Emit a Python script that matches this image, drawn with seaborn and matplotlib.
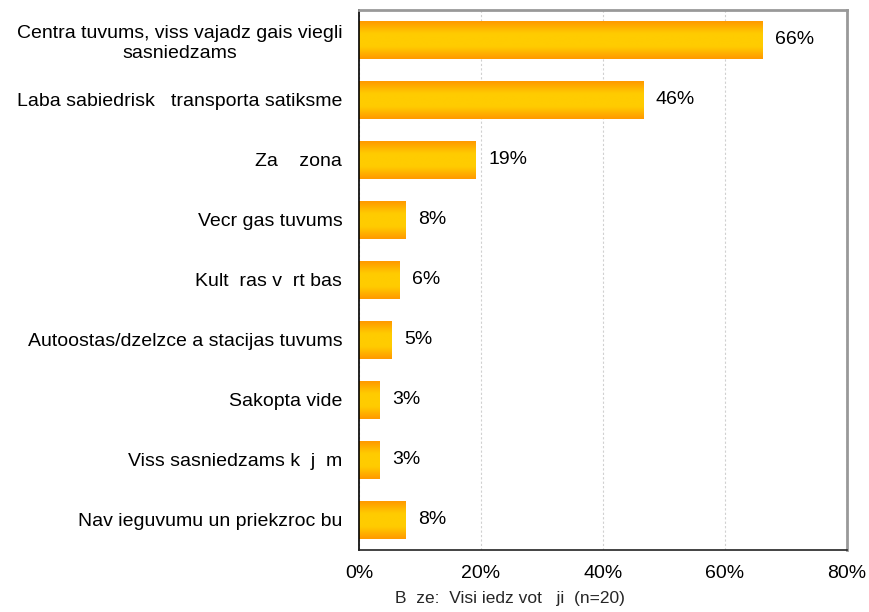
import numpy as np
import pandas as pd
import matplotlib
matplotlib.use("Agg")
import matplotlib.pyplot as plt
import seaborn as sns
from matplotlib.colors import LinearSegmentedColormap

# Data
categories = [
    "Centra tuvums, viss vajadz gais viegli\nsasniedzams",
    "Laba sabiedrisk   transporta satiksme",
    "Za    zona",
    "Vecr gas tuvums",
    "Kult  ras v  rt bas",
    "Autoostas/dzelzce a stacijas tuvums",
    "Sakopta vide",
    "Viss sasniedzams k  j  m",
    "Nav ieguvumu un priekzroc bu",
]
values = [66.2, 46.6, 19.1, 7.7, 6.6, 5.3, 3.4, 3.4, 7.7]
value_labels = ["66%", "46%", "19%", "8%", "6%", "5%", "3%", "3%", "8%"]
x_ticks = [0, 20, 40, 60, 80]
x_title = "B  ze:  Visi iedz vot   ji  (n=20)"

df = pd.DataFrame({"cat": categories, "val": values})

sns.set_style("white")
plt.rcParams["font.family"] = ["Liberation Sans", "DejaVu Sans"]
plt.rcParams["text.color"] = "black"
plt.rcParams["xtick.color"] = "black"
plt.rcParams["ytick.color"] = "black"

fig = plt.figure(figsize=(8.69, 6.12), dpi=100)
ax = fig.add_axes([359 / 869, 1 - 550 / 612, 488 / 869, 540 / 612])

sns.barplot(data=df, x="val", y="cat", orient="h", width=0.63,
            color="#FFB000", edgecolor="none", ax=ax)

# vertical gradient fill (orange edges, yellow middle) clipped to each bar
cmap = LinearSegmentedColormap.from_list("og", ["#FF9900", "#FFCC00", "#FFCC00", "#FF9900"])
grad = np.linspace(0, 1, 256).reshape(-1, 1)
for p in ax.patches:
    x0, y0 = p.get_x(), p.get_y()
    w, h = p.get_width(), p.get_height()
    im = ax.imshow(grad, cmap=cmap, aspect="auto", extent=[x0, x0 + w, y0 + h, y0],
                   interpolation="bicubic", zorder=p.get_zorder() + 0.1)
    im.set_clip_path(p)

ax.set_xlim(0, 80)
ax.set_ylim(len(categories) - 0.5, -0.5)

for i, (v, lab) in enumerate(zip(values, value_labels)):
    ax.annotate(lab, (v, i), xytext=(9, 0), textcoords="offset points",
                va="center", ha="left", fontsize=14, color="black")

ax.set_xticks(x_ticks)
ax.set_xticklabels([f"{t}%" for t in x_ticks], fontsize=14)
ax.set_yticks(range(len(categories)))
ax.set_yticklabels(categories, fontsize=14, ha="right", multialignment="center")
ax.set_yticks(np.arange(-0.5, len(categories), 1), minor=True)
ax.tick_params(axis="y", which="major", length=0, pad=12)
ax.tick_params(axis="y", which="minor", length=5, width=1, color="#333333", direction="out")
ax.tick_params(axis="x", which="major", length=4, width=1, color="#333333",
               direction="out", pad=7)

ax.grid(axis="x", color="#d0d0d0", linestyle=(0, (2, 2)), linewidth=0.8)
ax.set_axisbelow(True)

for side in ["top", "right"]:
    ax.spines[side].set_color("#999999")
    ax.spines[side].set_linewidth(2)
ax.spines["left"].set_color("black")
ax.spines["left"].set_linewidth(1.2)
ax.spines["bottom"].set_color("#222222")
ax.spines["bottom"].set_linewidth(1.2)

ax.set_ylabel("")
ax.set_xlabel(x_title, fontsize=12.5)
ax.xaxis.set_label_coords((510 - 359) / 488, -0.076)

fig.savefig("out.png", dpi=100)
